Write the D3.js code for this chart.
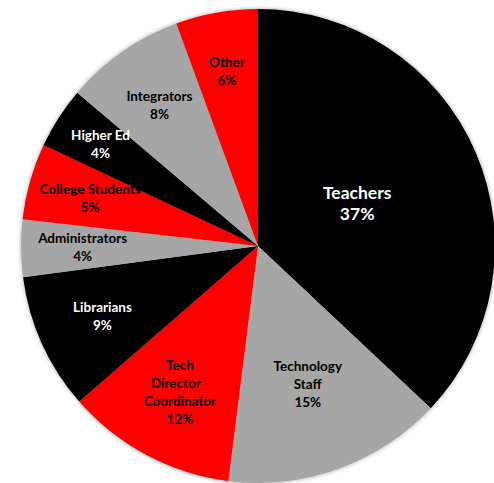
<!DOCTYPE html>
<html><head><meta charset="utf-8">
<script src="https://cdn.jsdelivr.net/npm/d3@7"></script>
<style>html,body{margin:0;padding:0;background:#fff;}svg{display:block;}</style>
</head><body>
<svg id="chart" width="494" height="483"></svg>
<script>
const categories = ["Teachers","Technology Staff","Tech Director - Coordinator","Librarians","Administrators","College Students","Higher Ed","Integrators","Other"];
const values = [37.0,15.0,11.6,9.3,3.9,5.2,4.2,8.2,5.6];
const labelLines = [["Teachers"],["Technology","Staff"],["Tech","Director -","Coordinator"],["Librarians"],["Administrators"],["College Students"],["Higher Ed"],["Integrators"],["Other"]];
const percentLabels = ["37%","15%","12%","9%","4%","5%","4%","8%","6%"];

const colors = ["#000000","#a6a6a6","#ff0000","#000000","#a6a6a6","#ff0000","#000000","#a6a6a6","#ff0000"];
const textColors = ["#ffffff","#000000","#000000","#ffffff","#000000","#000000","#ffffff","#000000","#000000"];
const labelRadiusFactor = [0.456,0.62,0.70,0.72,0.74,0.736,0.79,0.726,0.75];

const svg = d3.select("#chart");
const cx = 258, cy = 246, R = 237;
const defs = svg.append("defs");
const f = defs.append("filter").attr("id","sh").attr("x","-10%").attr("y","-10%").attr("width","120%").attr("height","120%");
f.append("feDropShadow").attr("dx",0).attr("dy",0).attr("stdDeviation",2.2).attr("flood-color","#000").attr("flood-opacity",0.35);

const g = svg.append("g").attr("transform",`translate(${cx},${cy})`);
const pie = d3.pie().sort(null).value(d=>d)(values);
const arc = d3.arc().innerRadius(0).outerRadius(R);

g.append("g").attr("filter","url(#sh)").selectAll("path").data(pie).join("path")
  .attr("d",arc).attr("fill",(d,i)=>colors[i]);

pie.forEach((d,i)=>{
  const a = (d.startAngle+d.endAngle)/2;
  const r = R*labelRadiusFactor[i];
  const x = Math.sin(a)*r, y = -Math.cos(a)*r;
  const lines = labelLines[i].concat([percentLabels[i]]);
  const fs = i===0 ? 17.5 : 13.5;
  const lhi = i===0 ? 21 : 18;
  const t = g.append("text").attr("text-anchor","middle")
    .attr("font-family","Lato, 'Open Sans', sans-serif").attr("font-weight","bold")
    .attr("font-size",fs).attr("fill",textColors[i]);
  const y0 = y - (lines.length-1)*lhi/2;
  lines.forEach((ln,k)=>{
    t.append("tspan").attr("x",x).attr("y",y0+k*lhi).attr("dy","0.35em").text(ln);
  });
});
</script>
</body></html>
